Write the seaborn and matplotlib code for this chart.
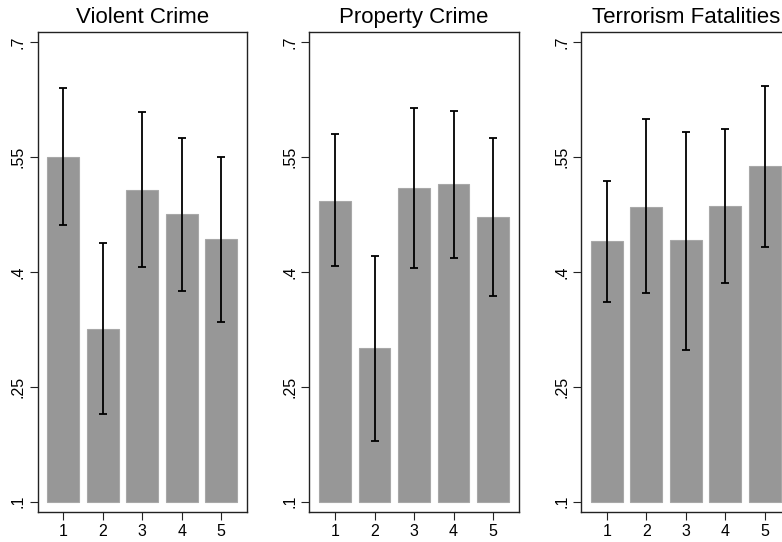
import matplotlib
matplotlib.use("Agg")
import matplotlib.pyplot as plt
import seaborn as sns
import numpy as np
import pandas as pd

sns.set_theme(style="white")
plt.rcParams["font.family"] = ["Liberation Sans", "DejaVu Sans"]

# Group means and confidence limits per panel
groups = ["1", "2", "3", "4", "5"]
titles = ["Violent Crime", "Property Crime", "Terrorism Fatalities"]

violent_mean = [0.550, 0.326, 0.507, 0.475, 0.443]
violent_lo = [0.461, 0.214, 0.406, 0.375, 0.335]
violent_hi = [0.640, 0.438, 0.608, 0.575, 0.550]

property_mean = [0.493, 0.300, 0.509, 0.514, 0.472]
property_lo = [0.407, 0.179, 0.405, 0.418, 0.369]
property_hi = [0.580, 0.421, 0.614, 0.610, 0.575]

terror_mean = [0.440, 0.485, 0.442, 0.486, 0.538]
terror_lo = [0.361, 0.372, 0.298, 0.386, 0.433]
terror_hi = [0.519, 0.600, 0.583, 0.586, 0.642]

y_ticks = [0.1, 0.25, 0.4, 0.55, 0.7]
y_tick_labels = [".1", ".25", ".4", ".55", ".7"]
BASE = 0.1

panels = [
    (violent_mean, violent_lo, violent_hi),
    (property_mean, property_lo, property_hi),
    (terror_mean, terror_lo, terror_hi),
]

W, H = 782, 542
fig = plt.figure(figsize=(W / 100, H / 100), dpi=100)
lefts = [37.5 / W, 309.3 / W, 581.0 / W]
ax_w = 209.5 / W
ax_b = (H - 511.7) / H
ax_h = 480.0 / H

for left, title, (mean, lo, hi) in zip(lefts, titles, panels):
    ax = fig.add_axes([left, ax_b, ax_w, ax_h])
    df = pd.DataFrame({"group": groups, "height": np.array(mean) - BASE})
    sns.barplot(data=df, x="group", y="height", bottom=BASE, color="#979797",
                saturation=1, width=0.8, errorbar=None, edgecolor="#a8a8a8",
                linewidth=0.8, ax=ax)
    xpos = np.arange(len(groups))
    m = np.array(mean)
    ax.errorbar(xpos, m, yerr=[m - np.array(lo), np.array(hi) - m], fmt="none",
                ecolor="black", elinewidth=1.3, capsize=3.2, capthick=1.3, zorder=3)
    ax.set_xlim(-0.65, 4.65)
    ax.set_ylim(0.087, 0.7134)
    ax.set_yticks(y_ticks)
    ax.set_yticklabels(y_tick_labels, rotation=90, va="center")
    ax.set_xlabel("")
    ax.set_ylabel("")
    ax.set_title(title, fontsize=16, pad=6, color="black")
    ax.tick_params(axis="both", which="major", direction="out", length=5.5, width=0.8,
                   color="#222222", labelsize=11.5, labelcolor="black",
                   bottom=True, left=True, pad=3)
    for s in ax.spines.values():
        s.set_visible(True)
        s.set_color("#222222")
        s.set_linewidth(1.0)

fig.savefig("out.png", dpi=100)
